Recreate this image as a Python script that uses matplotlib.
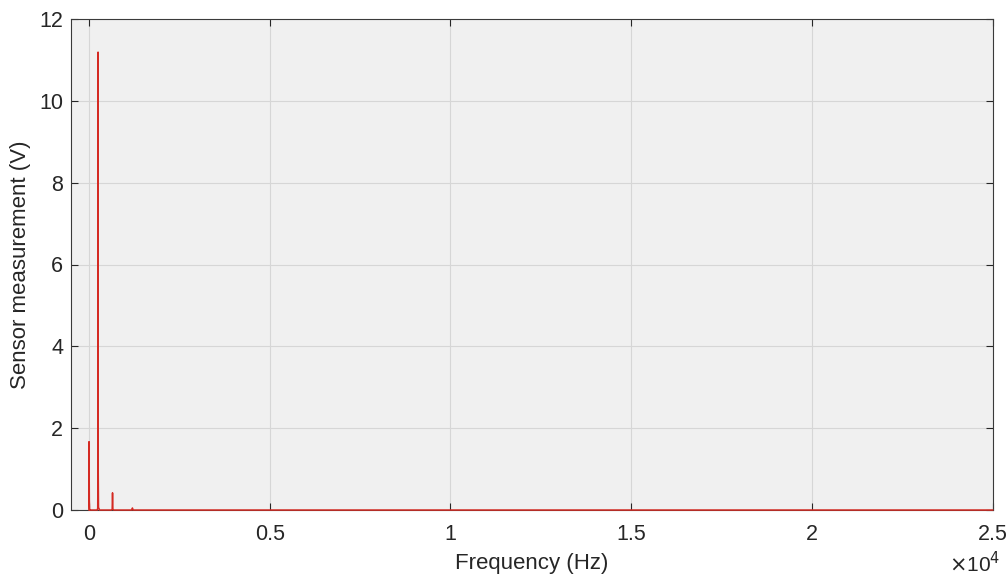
import matplotlib
matplotlib.use('Agg')
import matplotlib.pyplot as plt

plt.rcParams['font.family'] = ['Liberation Sans', 'DejaVu Sans']

# spectrum: spikes on a near-zero floor
freq_hz = [0, 0, 8, 15, 20, 30, 230, 240, 245, 250, 255, 262, 275, 290,
           620, 640, 650, 660, 680, 1180, 1200, 1220, 25000]
amp_v = [0.0, 1.67, 0.25, 0.02, 0.0, 0.0, 0.0, 0.05, 0.9, 11.19, 0.9, 0.05,
         0.04, 0.0, 0.0, 0.02, 0.42, 0.02, 0.0, 0.0, 0.05, 0.0, 0.0]

x_ticks = [0, 5000, 10000, 15000, 20000, 25000]
x_tick_labels = ['0', '0.5', '1', '1.5', '2', '2.5']
y_ticks = [0, 2, 4, 6, 8, 10, 12]

fig = plt.figure(figsize=(10.08, 5.75), dpi=100)
ax = fig.add_axes([0.0704, 0.113, 0.9144, 0.854])
ax.set_facecolor('#f0f0f0')

ax.plot(freq_hz, amp_v, color='#d42a22', linewidth=1.1, zorder=3, clip_on=False)

ax.set_xlim(-500, 25000)
ax.set_ylim(0, 12)
ax.set_xticks(x_ticks)
ax.set_xticklabels(x_tick_labels)
ax.set_yticks(y_ticks)

ax.grid(True, color='#d6d6d6', linewidth=0.8)
ax.set_axisbelow(True)
ax.tick_params(direction='in', length=5, width=0.8, colors='#262626',
               labelsize=15.5, top=True, right=True)
ax.tick_params(axis='x', pad=10)
ax.tick_params(axis='y', pad=5.5)
for s in ax.spines.values():
    s.set_color('#3a3a3a')
    s.set_linewidth(0.8)

ax.set_xlabel('Frequency (Hz)', fontsize=16, color='#262626', labelpad=6)
ax.set_ylabel('Sensor measurement (V)', fontsize=16, color='#262626', labelpad=6)
ax.text(1.008, -0.11, r'$\times$10$^4$', transform=ax.transAxes, ha='right',
        va='center', fontsize=15, color='#262626')

fig.savefig('out.png', dpi=100)
